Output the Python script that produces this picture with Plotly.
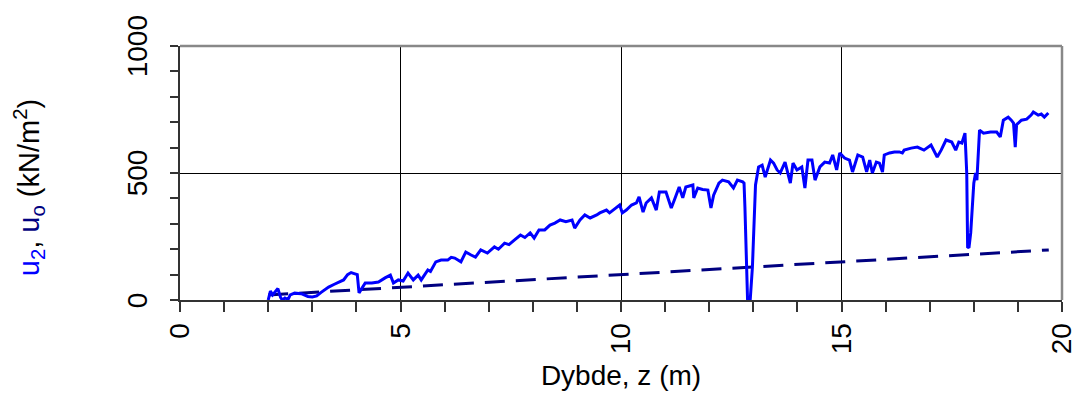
import plotly.graph_objects as go

# Depth (m) and measured pore pressure u2 (kN/m2)
z_u2 = [2.00, 2.05, 2.10, 2.15, 2.22, 2.28, 2.32, 2.38, 2.45, 2.50, 2.60, 2.75, 2.90, 3.00, 3.10,
        3.20, 3.37, 3.50, 3.60, 3.71, 3.80, 3.88, 3.95, 4.02, 4.06, 4.12, 4.20, 4.35, 4.50, 4.65,
        4.77, 4.84, 4.95, 5.06, 5.17, 5.29, 5.40, 5.47, 5.62, 5.68, 5.80, 5.92, 6.07, 6.15, 6.23,
        6.37, 6.48, 6.60, 6.70, 6.82, 6.97, 7.13, 7.22, 7.36, 7.46, 7.58, 7.72, 7.82, 7.94, 8.03,
        8.14, 8.27, 8.39, 8.50, 8.62, 8.75, 8.89, 8.95, 9.07, 9.18, 9.30, 9.45, 9.52, 9.67, 9.74,
        9.85, 9.97, 10.03, 10.12, 10.24, 10.35, 10.41, 10.50, 10.57, 10.69, 10.80, 10.87, 11.02,
        11.14, 11.21, 11.32, 11.40, 11.47, 11.63, 11.65, 11.74, 11.85, 11.97, 12.04, 12.10, 12.22,
        12.30, 12.44, 12.55, 12.64, 12.76, 12.79, 12.81, 12.87, 12.93, 12.98, 13.05, 13.12, 13.20,
        13.27, 13.39, 13.46, 13.54, 13.61, 13.72, 13.84, 13.90, 13.99, 14.10, 14.17, 14.24, 14.33,
        14.40, 14.51, 14.62, 14.73, 14.80, 14.89, 14.96, 15.07, 15.18, 15.25, 15.37, 15.48, 15.57,
        15.64, 15.70, 15.79, 15.86, 15.93, 15.97, 16.09, 16.20, 16.31, 16.38, 16.42, 16.58, 16.72,
        16.87, 17.03, 17.17, 17.26, 17.37, 17.50, 17.59, 17.66, 17.73, 17.80, 17.84, 17.86, 17.89,
        17.93, 18.00, 18.04, 18.07, 18.13, 18.22, 18.38, 18.52, 18.60, 18.67, 18.78, 18.85, 18.90,
        18.94, 18.97, 19.08, 19.20, 19.30, 19.35, 19.46, 19.53, 19.60, 19.69]
u2 = [0, 35, 20, 30, 45, 10, 0, 8, 2, 20, 27, 25, 14, 12, 16,
      30, 51, 62, 71, 79, 100, 108, 104, 100, 28, 45, 67, 67, 71, 87,
      98, 67, 79, 75, 106, 79, 98, 79, 118, 112, 150, 157, 157, 168, 165,
      150, 189, 177, 169, 197, 185, 209, 200, 224, 218, 236, 256, 246, 264, 244,
      276, 276, 295, 303, 315, 308, 315, 283, 315, 335, 323, 335, 343, 354, 343,
      358, 374, 343, 354, 374, 382, 406, 346, 382, 402, 354, 425, 425,
      362, 394, 445, 402, 445, 453, 402, 441, 435, 433, 362, 413, 460,
      472, 465, 441, 472, 465, 460, 366, 0, 0, 130, 453, 524, 531,
      484, 551, 539, 512, 500, 543, 460, 539, 512, 524, 441, 551, 551,
      472, 524, 543, 539, 571, 512, 579, 559, 551, 504, 571, 563, 504,
      551, 500, 543, 539, 504, 571, 579, 583, 583, 579, 590, 598, 602,
      590, 610, 563, 590, 630, 622, 590, 622, 618, 657, 500, 209, 205,
      264, 460, 500, 472, 669, 657, 661, 661, 642, 708, 720, 708, 697,
      602, 690, 708, 712, 728, 740, 728, 732, 720, 736]

# Hydrostatic pore pressure u0
z_u0 = [2.0, 19.7]
u0 = [20, 197]

x_ticks = [0, 5, 10, 15, 20]
y_ticks = [0, 500, 1000]

FONT = "Arial, Liberation Sans, sans-serif"

fig = go.Figure()
fig.add_trace(go.Scatter(x=z_u0, y=u0, mode="lines",
                         line=dict(color="#000080", width=3, dash="20px,11px"),
                         showlegend=False, hoverinfo="skip"))
fig.add_trace(go.Scatter(x=z_u2, y=u2, mode="lines",
                         line=dict(color="#0000FF", width=3),
                         showlegend=False, hoverinfo="skip"))

fig.update_layout(
    width=1089, height=401,
    margin=dict(l=180, r=20, t=46, b=101),
    paper_bgcolor="white", plot_bgcolor="white",
    font=dict(family=FONT, size=28, color="black"),
    xaxis=dict(
        range=[0, 20], tickvals=x_ticks, ticktext=[str(v) for v in x_ticks],
        tickangle=-90, ticks="outside", ticklen=10, tickwidth=1.5, tickcolor="#333",
        showgrid=True, gridcolor="black", gridwidth=1,
        showline=True, linecolor="#333", linewidth=2, zeroline=False,
        minor=dict(dtick=1, ticks="outside", ticklen=10, tickwidth=1.5, tickcolor="#333", showgrid=False),
        tickfont=dict(size=28),
        title=dict(text="Dybde, z (m)", font=dict(size=28), standoff=12),
    ),
    yaxis=dict(
        range=[0, 1000], tickvals=y_ticks, showticklabels=False,
        ticks="outside", ticklen=8, tickwidth=1.5, tickcolor="#333",
        showgrid=True, gridcolor="black", gridwidth=1,
        showline=True, linecolor="#333", linewidth=2, zeroline=False,
        minor=dict(dtick=100, ticks="outside", ticklen=8, tickwidth=1.5, tickcolor="#333", showgrid=False),
    ),
    shapes=[
        dict(type="line", xref="paper", yref="paper", x0=0, x1=1, y0=1, y1=1,
             line=dict(color="#888888", width=2.5)),
        dict(type="line", xref="paper", yref="paper", x0=1, x1=1, y0=0, y1=1,
             line=dict(color="#888888", width=2.5)),
    ],
)

# Rotated y tick labels placed like the reference
for v in y_ticks:
    fig.add_annotation(
        xref="paper", yref="y", x=(137 - 180) / 889, y=v,
        xanchor="center", yanchor="middle", textangle=-90, showarrow=False,
        text=str(v), font=dict(size=28, family=FONT, color="black"),
    )

fig.add_annotation(
    xref="paper", yref="paper", x=(28 - 180) / 889, y=(300 - 188) / 254,
    xanchor="center", yanchor="middle", textangle=-90, showarrow=False,
    text=('<span style="color:#0000FF">u<sub>2</sub></span>, '
          '<span style="color:#000080">u<sub>o</sub></span> (kN/m<sup>2</sup>)'),
    font=dict(size=29, family=FONT, color="black"),
)

fig.write_html("out.html")
